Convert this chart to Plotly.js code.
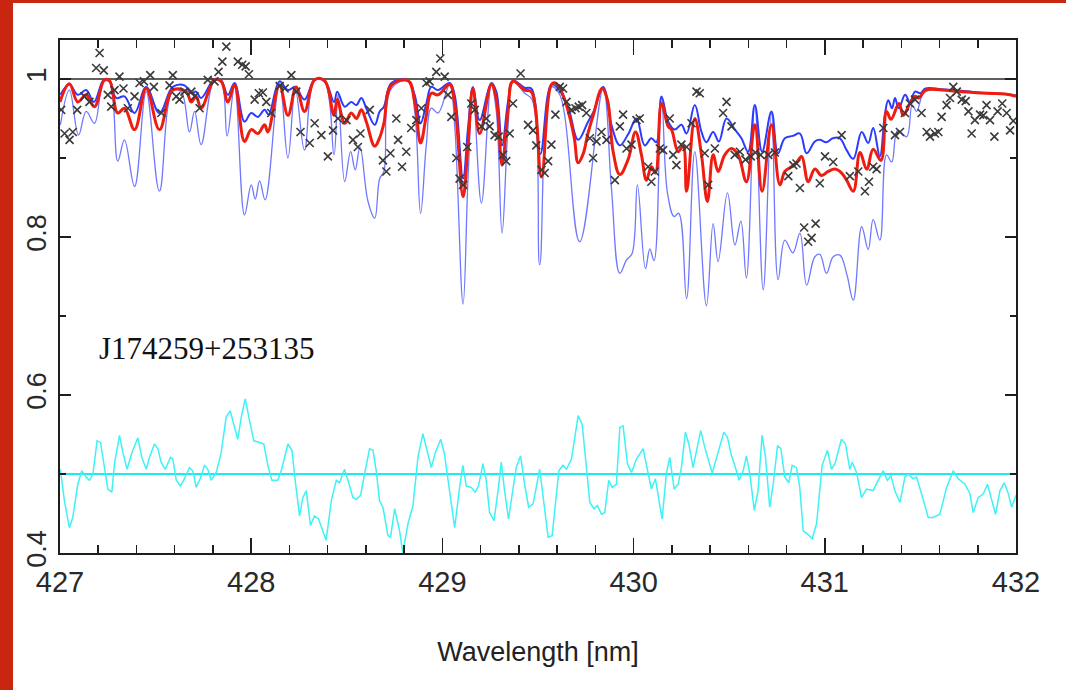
<!DOCTYPE html>
<html>
<head>
<meta charset="utf-8">
<script src="https://cdn.plot.ly/plotly-3.0.1.min.js"></script>
<style>
  html, body { margin: 0; padding: 0; background: #ffffff; }
  #wrap { position: relative; width: 1066px; height: 690px; overflow: hidden; }
  #chart { position: absolute; left: 0; top: 0; width: 1066px; height: 690px; }
  .bar { position: absolute; background: #c8260e; pointer-events: none; }
</style>
</head>
<body>
<div id="wrap">
  <div id="chart"></div>
  <div class="bar" style="left:0;top:0;width:13px;height:690px;"></div>
  <div class="bar" style="left:0;top:0;width:1066px;height:3px;"></div>
</div>
<script>
// Normalised flux around the G band of J174259+253135, wavelengths in nm.

// Best-fitting synthetic spectrum
const fitWave = [427.000, 427.049, 427.093, 427.137, 427.180, 427.233, 427.259, 427.302, 427.337, 427.390,
  427.451, 427.520, 427.590, 427.660, 427.686, 427.712, 427.738, 427.808, 427.843, 427.878,
  427.913, 427.965, 428.000, 428.035, 428.070, 428.087, 428.148, 428.192, 428.235, 428.279,
  428.332, 428.384, 428.433, 428.450, 428.489, 428.523, 428.550, 428.576, 428.602, 428.646,
  428.672, 428.694, 428.733, 428.820, 428.855, 428.886, 428.916, 428.942, 428.977, 429.038,
  429.064, 429.108, 429.134, 429.160, 429.195, 429.256, 429.282, 429.312, 429.343, 429.369,
  429.430, 429.465, 429.518, 429.570, 429.591, 429.623, 429.657, 429.690, 429.710, 429.736,
  429.760, 429.790, 429.835, 429.863, 429.893, 429.928, 429.971, 430.010, 430.041, 430.067,
  430.093, 430.114, 430.146, 430.181, 430.198, 430.233, 430.259, 430.277, 430.320, 430.355,
  430.386, 430.416, 430.442, 430.477, 430.512, 430.547, 430.590, 430.634, 430.672, 430.721,
  430.765, 430.791, 430.826, 430.852, 430.879, 430.913, 430.948, 430.983, 431.018, 431.053,
  431.088, 431.114, 431.149, 431.184, 431.219, 431.253, 431.294, 431.323, 431.346, 431.388,
  431.410, 431.445, 431.472, 431.492, 431.527, 431.611, 431.716, 431.855, 431.942, 432.000];
const fitFlux = [0.971, 0.994, 0.971, 0.980, 0.965, 0.999, 0.998, 0.957, 0.963, 0.936,
  0.988, 0.936, 0.986, 0.984, 0.971, 0.978, 0.963, 0.999, 0.997, 0.971,
  0.992, 0.921, 0.936, 0.931, 0.942, 0.933, 0.992, 0.954, 0.990, 0.959,
  0.999, 0.998, 0.954, 0.974, 0.944, 0.957, 0.950, 0.961, 0.946, 0.915,
  0.926, 0.944, 0.992, 0.998, 0.971, 0.919, 0.954, 0.982, 0.980, 0.993,
  0.969, 0.851, 0.916, 0.988, 0.931, 0.993, 0.974, 0.891, 0.959, 0.997,
  0.986, 0.984, 0.876, 0.993, 0.995, 0.984, 0.960, 0.925, 0.894, 0.905,
  0.930, 0.955, 0.988, 0.974, 0.908, 0.879, 0.898, 0.933, 0.904, 0.872,
  0.889, 0.881, 0.969, 0.940, 0.936, 0.908, 0.915, 0.858, 0.950, 0.904,
  0.845, 0.904, 0.883, 0.904, 0.912, 0.904, 0.870, 0.942, 0.858, 0.942,
  0.866, 0.883, 0.889, 0.894, 0.902, 0.870, 0.886, 0.878, 0.883, 0.886,
  0.881, 0.872, 0.858, 0.907, 0.886, 0.911, 0.897, 0.959, 0.949, 0.969,
  0.954, 0.969, 0.978, 0.976, 0.986, 0.986, 0.984, 0.982, 0.981, 0.978];

// Weak-line model
const weakWave = [427.002, 427.049, 427.093, 427.137, 427.177, 427.229, 427.259, 427.294, 427.337, 427.390,
  427.451, 427.520, 427.590, 427.651, 427.686, 427.712, 427.738, 427.808, 427.843, 427.878,
  427.913, 427.965, 428.000, 428.035, 428.070, 428.091, 428.148, 428.192, 428.231, 428.279,
  428.332, 428.384, 428.433, 428.450, 428.489, 428.523, 428.550, 428.576, 428.602, 428.646,
  428.672, 428.694, 428.733, 428.820, 428.855, 428.886, 428.916, 428.942, 428.977, 429.038,
  429.064, 429.108, 429.134, 429.160, 429.195, 429.256, 429.282, 429.312, 429.343, 429.369,
  429.430, 429.465, 429.512, 429.570, 429.605, 429.657, 429.710, 429.760, 429.793, 429.841,
  429.884, 429.928, 429.971, 430.015, 430.058, 430.093, 430.119, 430.146, 430.181, 430.215,
  430.250, 430.277, 430.320, 430.355, 430.381, 430.416, 430.446, 430.486, 430.530, 430.564,
  430.599, 430.634, 430.672, 430.721, 430.755, 430.791, 430.833, 430.870, 430.905, 430.948,
  430.974, 431.009, 431.042, 431.079, 431.114, 431.149, 431.193, 431.227, 431.253, 431.288,
  431.314, 431.332, 431.352, 431.367, 431.387, 431.420, 431.445, 431.472, 431.500, 431.527,
  431.611, 431.716, 431.855, 431.942, 432.000];
const weakFlux = [0.980, 0.993, 0.980, 0.986, 0.971, 0.999, 0.998, 0.976, 0.978, 0.957,
  0.990, 0.957, 0.990, 0.992, 0.982, 0.984, 0.976, 1.000, 0.998, 0.980,
  0.995, 0.946, 0.957, 0.952, 0.961, 0.955, 0.997, 0.986, 0.990, 0.974,
  0.999, 0.998, 0.971, 0.984, 0.965, 0.971, 0.967, 0.976, 0.963, 0.942,
  0.959, 0.965, 0.995, 0.998, 0.980, 0.944, 0.969, 0.990, 0.986, 0.995,
  0.980, 0.874, 0.938, 0.990, 0.948, 0.995, 0.984, 0.916, 0.971, 0.998,
  0.989, 0.988, 0.905, 0.993, 0.988, 0.965, 0.923, 0.945, 0.960, 0.990,
  0.942, 0.916, 0.930, 0.950, 0.916, 0.925, 0.920, 0.978, 0.946, 0.936,
  0.942, 0.931, 0.967, 0.933, 0.920, 0.933, 0.921, 0.950, 0.936, 0.925,
  0.908, 0.967, 0.908, 0.959, 0.906, 0.925, 0.928, 0.931, 0.906, 0.921,
  0.923, 0.920, 0.925, 0.925, 0.910, 0.899, 0.933, 0.919, 0.938, 0.902,
  0.955, 0.973, 0.963, 0.976, 0.963, 0.980, 0.971, 0.984, 0.982, 0.988,
  0.987, 0.985, 0.982, 0.981, 0.979];

// Strong-line model
const strongWave = [427.002, 427.049, 427.097, 427.137, 427.180, 427.229, 427.259, 427.302, 427.337, 427.390,
  427.451, 427.520, 427.590, 427.634, 427.677, 427.704, 427.738, 427.808, 427.843, 427.874,
  427.913, 427.965, 428.000, 428.021, 428.044, 428.073, 428.148, 428.192, 428.231, 428.279,
  428.332, 428.384, 428.433, 428.454, 428.489, 428.520, 428.544, 428.569, 428.611, 428.646,
  428.672, 428.694, 428.733, 428.820, 428.855, 428.886, 428.916, 428.942, 428.977, 429.038,
  429.064, 429.108, 429.134, 429.160, 429.204, 429.256, 429.282, 429.312, 429.343, 429.369,
  429.430, 429.469, 429.509, 429.570, 429.614, 429.718, 429.841, 429.884, 429.928, 429.963,
  429.992, 430.020, 430.062, 430.085, 430.107, 430.146, 430.177, 430.212, 430.236, 430.277,
  430.320, 430.381, 430.416, 430.442, 430.491, 430.530, 430.561, 430.590, 430.634, 430.678,
  430.721, 430.756, 430.791, 430.833, 430.870, 430.905, 430.948, 430.974, 431.009, 431.044,
  431.079, 431.114, 431.149, 431.193, 431.227, 431.253, 431.288, 431.323, 431.350, 431.381,
  431.428, 431.457, 431.480, 431.515, 431.550, 431.611, 431.716, 431.855, 431.942, 432.000];
const strongFlux = [0.942, 0.986, 0.929, 0.959, 0.944, 0.997, 0.996, 0.896, 0.923, 0.864,
  0.984, 0.858, 0.985, 0.984, 0.933, 0.959, 0.917, 0.999, 0.997, 0.928,
  0.990, 0.828, 0.866, 0.848, 0.871, 0.847, 0.995, 0.900, 0.987, 0.910,
  0.998, 0.996, 0.904, 0.980, 0.870, 0.908, 0.885, 0.914, 0.845, 0.824,
  0.874, 0.883, 0.988, 0.997, 0.959, 0.830, 0.917, 0.963, 0.957, 0.993,
  0.942, 0.715, 0.874, 0.984, 0.843, 0.993, 0.959, 0.805, 0.938, 0.997,
  0.982, 0.974, 0.765, 0.990, 0.980, 0.794, 0.988, 0.862, 0.754, 0.771,
  0.779, 0.866, 0.760, 0.785, 0.770, 0.976, 0.856, 0.826, 0.830, 0.722,
  0.908, 0.713, 0.817, 0.769, 0.856, 0.790, 0.820, 0.748, 0.967, 0.733,
  0.957, 0.746, 0.796, 0.780, 0.805, 0.739, 0.775, 0.778, 0.754, 0.775,
  0.777, 0.754, 0.720, 0.813, 0.784, 0.822, 0.796, 0.904, 0.895, 0.935,
  0.927, 0.967, 0.959, 0.982, 0.986, 0.986, 0.984, 0.982, 0.981, 0.979];

// Observed spectrum
const obsWave = [427.006, 427.024, 427.050, 427.067, 427.090, 427.128, 427.154, 427.189, 427.207, 427.229,
  427.250, 427.268, 427.285, 427.311, 427.332, 427.355, 427.390, 427.416, 427.439, 427.472,
  427.491, 427.530, 427.573, 427.590, 427.608, 427.625, 427.651, 427.687, 427.704, 427.730,
  427.773, 427.808, 427.829, 427.849, 427.870, 427.930, 427.953, 427.971, 427.988, 428.018,
  428.040, 428.061, 428.079, 428.105, 428.149, 428.175, 428.210, 428.236, 428.258, 428.306,
  428.332, 428.367, 428.401, 428.428, 428.454, 428.498, 428.532, 428.558, 428.571, 428.620,
  428.689, 428.707, 428.728, 428.759, 428.768, 428.789, 428.811, 428.837, 428.864, 428.890,
  428.916, 428.933, 428.968, 428.989, 429.012, 429.029, 429.047, 429.073, 429.090, 429.108,
  429.130, 429.151, 429.169, 429.204, 429.230, 429.247, 429.273, 429.294, 429.317, 429.334,
  429.352, 429.369, 429.409, 429.448, 429.474, 429.491, 429.518, 429.535, 429.553, 429.570,
  429.591, 429.614, 429.631, 429.649, 429.675, 429.696, 429.713, 429.731, 429.753, 429.771,
  429.788, 429.806, 429.832, 429.858, 429.902, 429.928, 429.945, 429.963, 429.989, 430.015,
  430.032, 430.076, 430.093, 430.111, 430.137, 430.154, 430.189, 430.207, 430.224, 430.250,
  430.277, 430.303, 430.329, 430.346, 430.372, 430.390, 430.425, 430.468, 430.486, 430.512,
  430.529, 430.556, 430.585, 430.613, 430.637, 430.664, 430.704, 430.739, 430.809, 430.835,
  430.852, 430.870, 430.892, 430.913, 430.931, 430.952, 430.974, 431.001, 431.044, 431.088,
  431.131, 431.175, 431.210, 431.231, 431.253, 431.271, 431.306, 431.367, 431.393, 431.419,
  431.445, 431.472, 431.506, 431.533, 431.550, 431.576, 431.594, 431.611, 431.637, 431.655,
  431.672, 431.690, 431.716, 431.737, 431.751, 431.768, 431.785, 431.812, 431.829, 431.846,
  431.864, 431.887, 431.904, 431.928, 431.951, 431.969, 431.986];
const obsFlux = [0.961, 0.931, 0.923, 0.933, 0.961, 0.978, 0.971, 1.014, 1.033, 1.011,
  0.980, 0.965, 0.986, 1.003, 0.988, 0.963, 0.978, 0.995, 0.997, 1.005,
  0.990, 0.957, 0.992, 1.005, 0.978, 0.974, 0.984, 0.984, 0.978, 0.963,
  0.999, 0.997, 1.009, 1.022, 1.041, 1.022, 1.018, 1.016, 1.006, 0.974,
  0.982, 0.983, 0.971, 0.957, 0.991, 0.988, 1.005, 0.984, 0.933, 0.919,
  0.944, 0.929, 0.902, 0.935, 0.950, 0.948, 0.923, 0.914, 0.931, 0.961,
  0.897, 0.883, 0.906, 0.950, 0.923, 0.889, 0.908, 0.938, 0.948, 0.963,
  0.995, 0.997, 1.009, 1.026, 1.003, 0.980, 0.952, 0.900, 0.874, 0.866,
  0.914, 0.969, 0.961, 0.940, 0.950, 0.940, 0.929, 0.927, 0.904, 0.896,
  0.931, 0.969, 1.007, 0.942, 0.935, 0.916, 0.885, 0.881, 0.896, 0.917,
  0.955, 0.990, 0.988, 0.971, 0.961, 0.963, 0.965, 0.967, 0.957, 0.925,
  0.900, 0.921, 0.933, 0.923, 0.872, 0.940, 0.955, 0.912, 0.917, 0.948,
  0.950, 0.889, 0.870, 0.883, 0.912, 0.910, 0.950, 0.904, 0.891, 0.917,
  0.914, 0.944, 0.984, 0.982, 0.906, 0.866, 0.912, 0.957, 0.971, 0.940,
  0.904, 0.908, 0.898, 0.902, 0.907, 0.904, 0.904, 0.907, 0.877, 0.891,
  0.893, 0.862, 0.812, 0.794, 0.799, 0.817, 0.868, 0.902, 0.895, 0.929,
  0.877, 0.883, 0.858, 0.870, 0.889, 0.886, 0.938, 0.929, 0.933, 0.957,
  0.969, 0.974, 0.957, 0.933, 0.927, 0.931, 0.933, 0.952, 0.967, 0.976,
  0.990, 0.984, 0.974, 0.972, 0.959, 0.931, 0.948, 0.955, 0.954, 0.967,
  0.948, 0.927, 0.959, 0.969, 0.957, 0.935, 0.947];

// Residuals (observed minus fit), offset to 0.5
const residWave = [427.002, 427.023, 427.049, 427.067, 427.093, 427.114, 427.137, 427.154, 427.172, 427.194,
  427.212, 427.233, 427.250, 427.271, 427.285, 427.311, 427.329, 427.351, 427.376, 427.407,
  427.428, 427.451, 427.468, 427.494, 427.512, 427.529, 427.550, 427.578, 427.590, 427.608,
  427.630, 427.651, 427.677, 427.695, 427.712, 427.733, 427.756, 427.773, 427.791, 427.817,
  427.843, 427.869, 427.890, 427.913, 427.930, 427.948, 427.969, 427.991, 428.014, 428.044,
  428.066, 428.087, 428.108, 428.139, 428.157, 428.192, 428.213, 428.230, 428.253, 428.270,
  428.288, 428.310, 428.331, 428.352, 428.375, 428.392, 428.419, 428.445, 428.462, 428.488,
  428.506, 428.532, 428.549, 428.572, 428.593, 428.619, 428.637, 428.654, 428.671, 428.689,
  428.715, 428.729, 428.750, 428.776, 428.793, 428.820, 428.846, 428.872, 428.898, 428.921,
  428.942, 428.963, 428.991, 429.011, 429.038, 429.064, 429.090, 429.107, 429.125, 429.151,
  429.172, 429.189, 429.212, 429.229, 429.247, 429.270, 429.291, 429.308, 429.325, 429.346,
  429.369, 429.386, 429.409, 429.430, 429.451, 429.474, 429.509, 429.553, 429.574, 429.591,
  429.609, 429.631, 429.649, 429.675, 429.710, 429.731, 429.748, 429.771, 429.793, 429.811,
  429.832, 429.849, 429.870, 429.888, 429.910, 429.928, 429.945, 429.968, 429.989, 430.015,
  430.050, 430.072, 430.093, 430.114, 430.149, 430.172, 430.189, 430.212, 430.233, 430.250,
  430.271, 430.289, 430.311, 430.351, 430.372, 430.411, 430.442, 430.472, 430.491, 430.512,
  430.529, 430.552, 430.573, 430.590, 430.608, 430.631, 430.651, 430.672, 430.690, 430.712,
  430.730, 430.753, 430.770, 430.791, 430.812, 430.829, 430.852, 430.869, 430.887, 430.910,
  430.934, 430.957, 430.986, 431.014, 431.035, 431.053, 431.087, 431.108, 431.131, 431.143,
  431.166, 431.192, 431.218, 431.253, 431.279, 431.305, 431.328, 431.346, 431.366, 431.393,
  431.419, 431.436, 431.462, 431.480, 431.506, 431.541, 431.567, 431.602, 431.637, 431.672,
  431.698, 431.733, 431.759, 431.776, 431.802, 431.829, 431.851, 431.872, 431.893, 431.916,
  431.939, 431.960, 431.977, 432.000];
const residFlux = [0.506, 0.466, 0.432, 0.445, 0.487, 0.504, 0.496, 0.492, 0.500, 0.542,
  0.540, 0.508, 0.481, 0.477, 0.513, 0.549, 0.527, 0.506, 0.527, 0.546,
  0.521, 0.506, 0.521, 0.538, 0.532, 0.515, 0.506, 0.521, 0.519, 0.492,
  0.485, 0.494, 0.508, 0.504, 0.483, 0.494, 0.511, 0.506, 0.492, 0.502,
  0.527, 0.572, 0.580, 0.559, 0.544, 0.572, 0.595, 0.568, 0.542, 0.540,
  0.538, 0.511, 0.492, 0.492, 0.504, 0.538, 0.530, 0.492, 0.447, 0.470,
  0.479, 0.435, 0.447, 0.443, 0.428, 0.416, 0.466, 0.492, 0.489, 0.506,
  0.492, 0.470, 0.468, 0.473, 0.500, 0.532, 0.530, 0.504, 0.466, 0.458,
  0.422, 0.420, 0.456, 0.428, 0.400, 0.437, 0.460, 0.521, 0.551, 0.527,
  0.508, 0.527, 0.544, 0.525, 0.475, 0.432, 0.483, 0.511, 0.485, 0.483,
  0.477, 0.485, 0.513, 0.492, 0.451, 0.441, 0.479, 0.515, 0.479, 0.443,
  0.481, 0.508, 0.523, 0.487, 0.458, 0.462, 0.506, 0.420, 0.422, 0.458,
  0.504, 0.511, 0.506, 0.519, 0.574, 0.563, 0.521, 0.464, 0.456, 0.460,
  0.449, 0.451, 0.492, 0.483, 0.487, 0.559, 0.561, 0.513, 0.502, 0.519,
  0.532, 0.506, 0.481, 0.494, 0.443, 0.502, 0.521, 0.481, 0.487, 0.508,
  0.553, 0.538, 0.508, 0.555, 0.534, 0.501, 0.527, 0.553, 0.546, 0.523,
  0.511, 0.492, 0.504, 0.523, 0.500, 0.454, 0.479, 0.549, 0.521, 0.458,
  0.487, 0.536, 0.532, 0.496, 0.489, 0.511, 0.508, 0.483, 0.428, 0.424,
  0.418, 0.437, 0.511, 0.530, 0.506, 0.513, 0.544, 0.538, 0.506, 0.515,
  0.502, 0.470, 0.481, 0.479, 0.492, 0.504, 0.492, 0.498, 0.479, 0.464,
  0.496, 0.500, 0.494, 0.496, 0.475, 0.445, 0.445, 0.449, 0.483, 0.504,
  0.494, 0.487, 0.475, 0.451, 0.470, 0.475, 0.487, 0.466, 0.449, 0.479,
  0.489, 0.475, 0.458, 0.473];

// Reference levels: continuum and residual zero point
const continuumWave = [427, 432];
const continuumFlux = [1, 1];
const residZeroWave = [427, 432];
const residZeroFlux = [0.5, 0.5];

const starName = 'J174259+253135';
const xTitle = 'Wavelength [nm]';

const sansFamily = '"Liberation Sans", Arial, sans-serif';
const axisInk = '#1e1e1e';
const smooth = 1.1;

const traces = [
  { x: continuumWave, y: continuumFlux, mode: 'lines', line: { color: '#2a2a2a', width: 1.6 }, hoverinfo: 'skip' },
  { x: residZeroWave, y: residZeroFlux, mode: 'lines', line: { color: '#1ee8f0', width: 2 }, hoverinfo: 'skip' },
  { x: residWave, y: residFlux, mode: 'lines', line: { color: '#3ef2f6', width: 1.5 }, name: 'residuals' },
  { x: strongWave, y: strongFlux, mode: 'lines', line: { color: '#6f78ff', width: 1.3, shape: 'spline', smoothing: smooth }, name: 'strong' },
  { x: weakWave, y: weakFlux, mode: 'lines', line: { color: '#2b3cff', width: 2, shape: 'spline', smoothing: smooth }, name: 'weak' },
  { x: fitWave, y: fitFlux, mode: 'lines', line: { color: '#f01c10', width: 3, shape: 'spline', smoothing: smooth }, name: 'fit' },
  { x: obsWave, y: obsFlux, mode: 'markers', marker: { symbol: 'x-thin-open', size: 8, color: '#3a3a3a', line: { width: 1.6, color: '#3a3a3a' } }, name: 'observed' }
];

const layout = {
  width: 1066,
  height: 690,
  margin: { l: 60, r: 50, t: 40, b: 137 },
  paper_bgcolor: '#ffffff',
  plot_bgcolor: '#ffffff',
  showlegend: false,
  xaxis: {
    range: [427, 432],
    tick0: 427,
    dtick: 1,
    ticks: 'inside',
    ticklen: 15,
    tickwidth: 1.5,
    tickcolor: axisInk,
    minor: { dtick: 0.2, ticks: 'inside', ticklen: 8, tickwidth: 1.5, tickcolor: axisInk },
    showline: true,
    linecolor: axisInk,
    linewidth: 1.6,
    mirror: 'ticks',
    showgrid: false,
    zeroline: false,
    tickfont: { family: sansFamily, size: 29, color: '#2a2a2a' },
    ticklabelstandoff: 3,
    title: { text: xTitle, font: { family: sansFamily, size: 27, color: '#222' }, standoff: 44 }
  },
  yaxis: {
    range: [0.4, 1.0494],
    tick0: 0.4,
    dtick: 0.2,
    ticks: 'inside',
    ticklen: 11,
    tickwidth: 1.5,
    tickcolor: axisInk,
    minor: { dtick: 0.1, ticks: 'inside', ticklen: 6, tickwidth: 1.5, tickcolor: axisInk },
    showline: true,
    linecolor: axisInk,
    linewidth: 1.6,
    mirror: 'ticks',
    showgrid: false,
    zeroline: false,
    tickangle: -90,
    tickfont: { family: sansFamily, size: 27, color: '#2a2a2a' },
    ticklabelstandoff: 2
  },
  annotations: [{
    x: 427.191, y: 0.659, xref: 'x', yref: 'y',
    text: starName, showarrow: false,
    xanchor: 'left', yanchor: 'middle',
    font: { family: '"Liberation Serif", "Times New Roman", serif', size: 31, color: '#111' }
  }]
};

Plotly.newPlot('chart', traces, layout, { displayModeBar: false, staticPlot: true });
</script>
</body>
</html>
